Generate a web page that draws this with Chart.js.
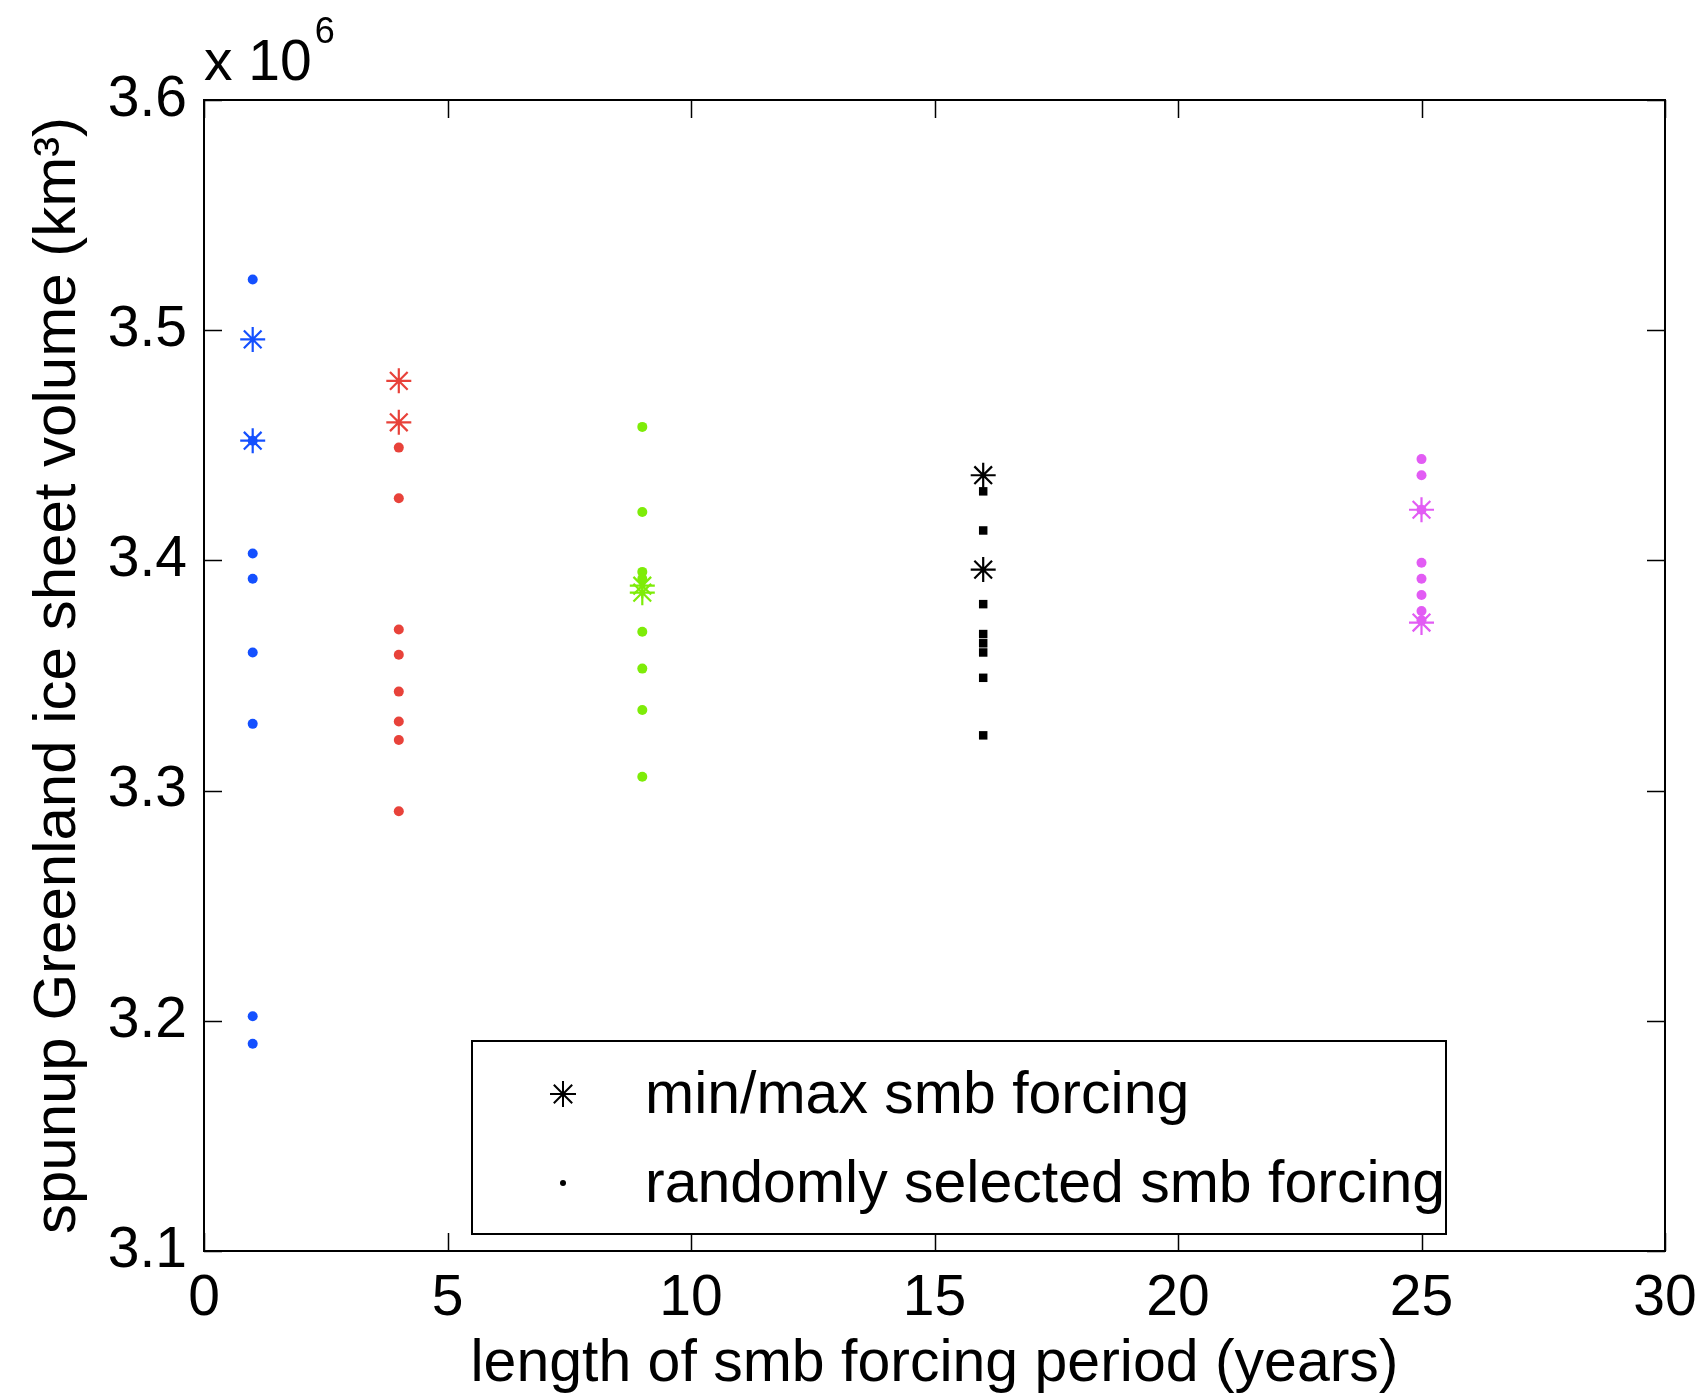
<!DOCTYPE html>
<html><head><meta charset="utf-8">
<script src="https://cdn.jsdelivr.net/npm/chart.js@4/dist/chart.umd.min.js"></script>
<style>html,body{margin:0;padding:0;background:#fff}#wrap{width:1701px;height:1397px}</style>
</head><body><div id="wrap"><canvas id="c" width="1701" height="1397"></canvas></div>
<script>
// ---- data (volume in units of 10^6 km^3) ----
const periods = [1, 4, 9, 16, 25];
const xTickValues = [0, 5, 10, 15, 20, 25, 30];
const yTickValues = [3.1, 3.2, 3.3, 3.4, 3.5, 3.6];

const random1  = [3.522, 3.452, 3.403, 3.392, 3.360, 3.329, 3.202, 3.190];
const minmax1  = [3.496, 3.452];
const random4  = [3.449, 3.427, 3.370, 3.359, 3.343, 3.330, 3.322, 3.291];
const minmax4  = [3.478, 3.460];
const random9  = [3.458, 3.421, 3.395, 3.392, 3.369, 3.353, 3.335, 3.306];
const minmax9  = [3.389, 3.386];
const random16 = [3.430, 3.413, 3.381, 3.368, 3.364, 3.360, 3.349, 3.324];
const minmax16 = [3.437, 3.396];
const random25 = [3.444, 3.437, 3.422, 3.399, 3.392, 3.385, 3.378, 3.374];
const minmax25 = [3.422, 3.373];

const groupColors = ['#1450ff', '#e8423a', '#7eec08', '#000000', '#e25cf4'];
const legendLabels = ['min/max smb forcing', 'randomly selected smb forcing'];
const xTitle = 'length of smb forcing period (years)';
const yTitle = 'spunup Greenland ice sheet volume (km\u00B3)';
const multiplierText = 'x 10';
const multiplierExp = '6';

// ---- build datasets ----
const randomSets = [random1, random4, random9, random16, random25];
const minmaxSets = [minmax1, minmax4, minmax9, minmax16, minmax25];
const FONT = "'Liberation Sans', Arial, Helvetica, sans-serif";
const datasets = [];
periods.forEach((p, i) => {
  datasets.push({
    label: legendLabels[1] + ' ' + p,
    data: randomSets[i].map(v => ({x: p, y: v})),
    pointStyle: i === 3 ? 'rect' : 'circle',
    pointRadius: i === 3 ? 6 : 5,
    backgroundColor: groupColors[i],
    borderColor: groupColors[i],
    borderWidth: 0,
    showLine: false
  });
});
periods.forEach((p, i) => {
  datasets.push({
    label: legendLabels[0] + ' ' + p,
    data: minmaxSets[i].map(v => ({x: p, y: v})),
    pointStyle: 'star',
    pointRadius: 12.5,
    backgroundColor: groupColors[i],
    borderColor: groupColors[i],
    borderWidth: 2.2,
    showLine: false
  });
});

const framePlugin = {
  id: 'frame',
  afterDraw(chart) {
    const ctx = chart.ctx, ca = chart.chartArea;
    const xs = chart.scales.x, ys = chart.scales.y;
    ctx.save();
    ctx.strokeStyle = '#000';
    ctx.lineWidth = 2;
    ctx.strokeRect(ca.left, ca.top, ca.right - ca.left, ca.bottom - ca.top);
    const tl = 18;
    ctx.lineWidth = 1.5;
    ctx.beginPath();
    xs.ticks.forEach(t => {
      const px = Math.round(xs.getPixelForValue(t.value)) + 0.5;
      ctx.moveTo(px, ca.bottom); ctx.lineTo(px, ca.bottom - tl);
      ctx.moveTo(px, ca.top); ctx.lineTo(px, ca.top + tl);
    });
    ys.ticks.forEach(t => {
      const py = Math.round(ys.getPixelForValue(t.value)) + 0.5;
      ctx.moveTo(ca.left, py); ctx.lineTo(ca.left + tl, py);
      ctx.moveTo(ca.right, py); ctx.lineTo(ca.right - tl, py);
    });
    ctx.stroke();

    // multiplier
    ctx.fillStyle = '#000';
    ctx.textAlign = 'left';
    ctx.textBaseline = 'alphabetic';
    ctx.font = '57px ' + FONT;
    ctx.fillText(multiplierText, ca.left, ca.top - 20);
    const w = ctx.measureText(multiplierText).width;
    ctx.font = '36px ' + FONT;
    ctx.fillText(multiplierExp, ca.left + w + 3, ca.top - 57);

    // legend box
    const bl = ca.left + 268, bt = ca.bottom - 210, bw = 974, bh = 193;
    ctx.fillStyle = '#fff';
    ctx.fillRect(bl, bt, bw, bh);
    ctx.lineWidth = 2;
    ctx.strokeStyle = '#000';
    ctx.strokeRect(bl, bt, bw, bh);
    const symX = bl + 91;
    const row1 = bt + 53, row2 = bt + 142;
    Chart.helpers.drawPoint(ctx, {pointStyle: 'star', radius: 13, borderWidth: 2.2}, symX, row1);
    ctx.fillStyle = '#000';
    ctx.beginPath(); ctx.arc(symX, row2, 3, 0, Math.PI * 2); ctx.fill();
    ctx.font = '59px ' + FONT;
    ctx.textBaseline = 'middle';
    ctx.fillText(legendLabels[0], bl + 173, row1 + 3);
    ctx.fillText(legendLabels[1], bl + 173, row2 + 3);
    ctx.restore();
  }
};

new Chart(document.getElementById('c'), {
  type: 'scatter',
  data: {datasets},
  options: {
    responsive: false,
    animation: false,
    devicePixelRatio: 1,
    layout: {padding: {top: 100, right: 36, left: 0, bottom: 0}},
    plugins: {legend: {display: false}, tooltip: {enabled: false}},
    scales: {
      x: {
        type: 'linear', min: 0, max: 30,
        afterBuildTicks: s => { s.ticks = xTickValues.map(v => ({value: v})); },
        afterFit: s => { s.height = 146; s.paddingLeft = 0; s.paddingRight = 0; },
        grid: {display: false, drawTicks: false},
        border: {display: false},
        ticks: {color: '#000', padding: 14, font: {size: 57, family: FONT}, callback: v => String(v)},
        title: {display: true, text: xTitle, color: '#000', font: {size: 59, family: FONT}, padding: {top: 0, bottom: -3}}
      },
      y: {
        type: 'linear', min: 3.1, max: 3.6,
        afterBuildTicks: s => { s.ticks = yTickValues.map(v => ({value: v})); },
        afterFit: s => { s.width = 204; s.paddingTop = 0; s.paddingBottom = 0; },
        grid: {display: false, drawTicks: false},
        border: {display: false},
        ticks: {color: '#000', padding: 17, font: {size: 57, family: FONT}, callback: v => v.toFixed(1)},
        title: {display: true, text: yTitle, color: '#000', font: {size: 60, family: FONT}, padding: {top: 22, bottom: 0}}
      }
    }
  },
  plugins: [framePlugin]
});
</script>
</body></html>
